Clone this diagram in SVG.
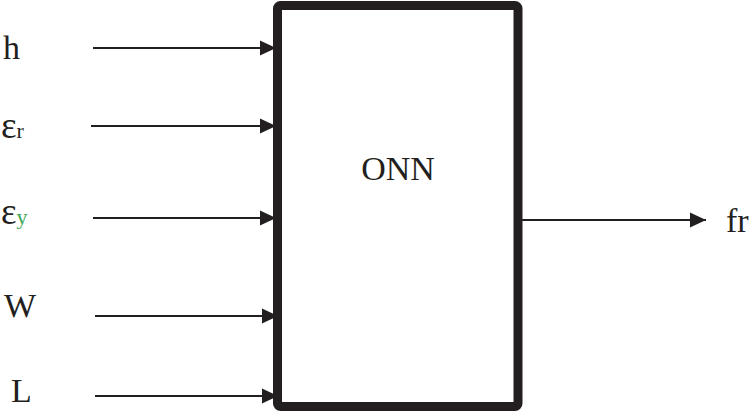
<svg xmlns="http://www.w3.org/2000/svg" width="750" height="414" viewBox="0 0 750 414">
  <style>
    .lbl { font-family: "Liberation Serif", "Times New Roman", serif; font-size: 34px; fill: #231f20; }
    .eps { font-size: 37px; }
    .sub { font-size: 22px; }
    .green { fill: #3aa655; }
    .conn { stroke: #231f20; stroke-width: 2.2; fill: none; marker-end: url(#arrow); }
    .box { fill: #ffffff; stroke: #231f20; stroke-width: 9; stroke-linejoin: round; }
  </style>
  <defs>
    <marker id="arrow" markerUnits="userSpaceOnUse" markerWidth="16" markerHeight="16" viewBox="0 0 16 16" refX="16" refY="8" orient="auto">
      <polygon points="0,0.5 16,8 0,15.5" fill="#231f20"/>
    </marker>
  </defs>
  <rect width="750" height="414" fill="#ffffff"/>
  <g id="onn">
    <rect class="box" x="277.5" y="5.5" width="240.5" height="401" rx="3"/>
    <text class="lbl" x="398" y="180" text-anchor="middle">ONN</text>
  </g>
  <g id="connectors">
    <line class="conn" x1="93" y1="48" x2="276" y2="48"/>
    <line class="conn" x1="91" y1="126" x2="276" y2="126"/>
    <line class="conn" x1="93" y1="218" x2="276" y2="218"/>
    <line class="conn" x1="95" y1="316" x2="278" y2="316"/>
    <line class="conn" x1="95" y1="396" x2="278" y2="396"/>
    <line class="conn" x1="522" y1="220" x2="706" y2="220"/>
  </g>
  <g id="in-h"><text class="lbl" x="3" y="59">h</text></g>
  <g id="in-er"><text class="lbl" x="1" y="138"><tspan class="eps">ε</tspan><tspan class="sub">r</tspan></text></g>
  <g id="in-ey"><text class="lbl" x="1" y="224"><tspan class="eps">ε</tspan><tspan class="sub green">y</tspan></text></g>
  <g id="in-w"><text class="lbl" x="4" y="317">W</text></g>
  <g id="in-l"><text class="lbl" x="11" y="402">L</text></g>
  <g id="out-fr"><text class="lbl" x="726" y="232">fr</text></g>
</svg>
